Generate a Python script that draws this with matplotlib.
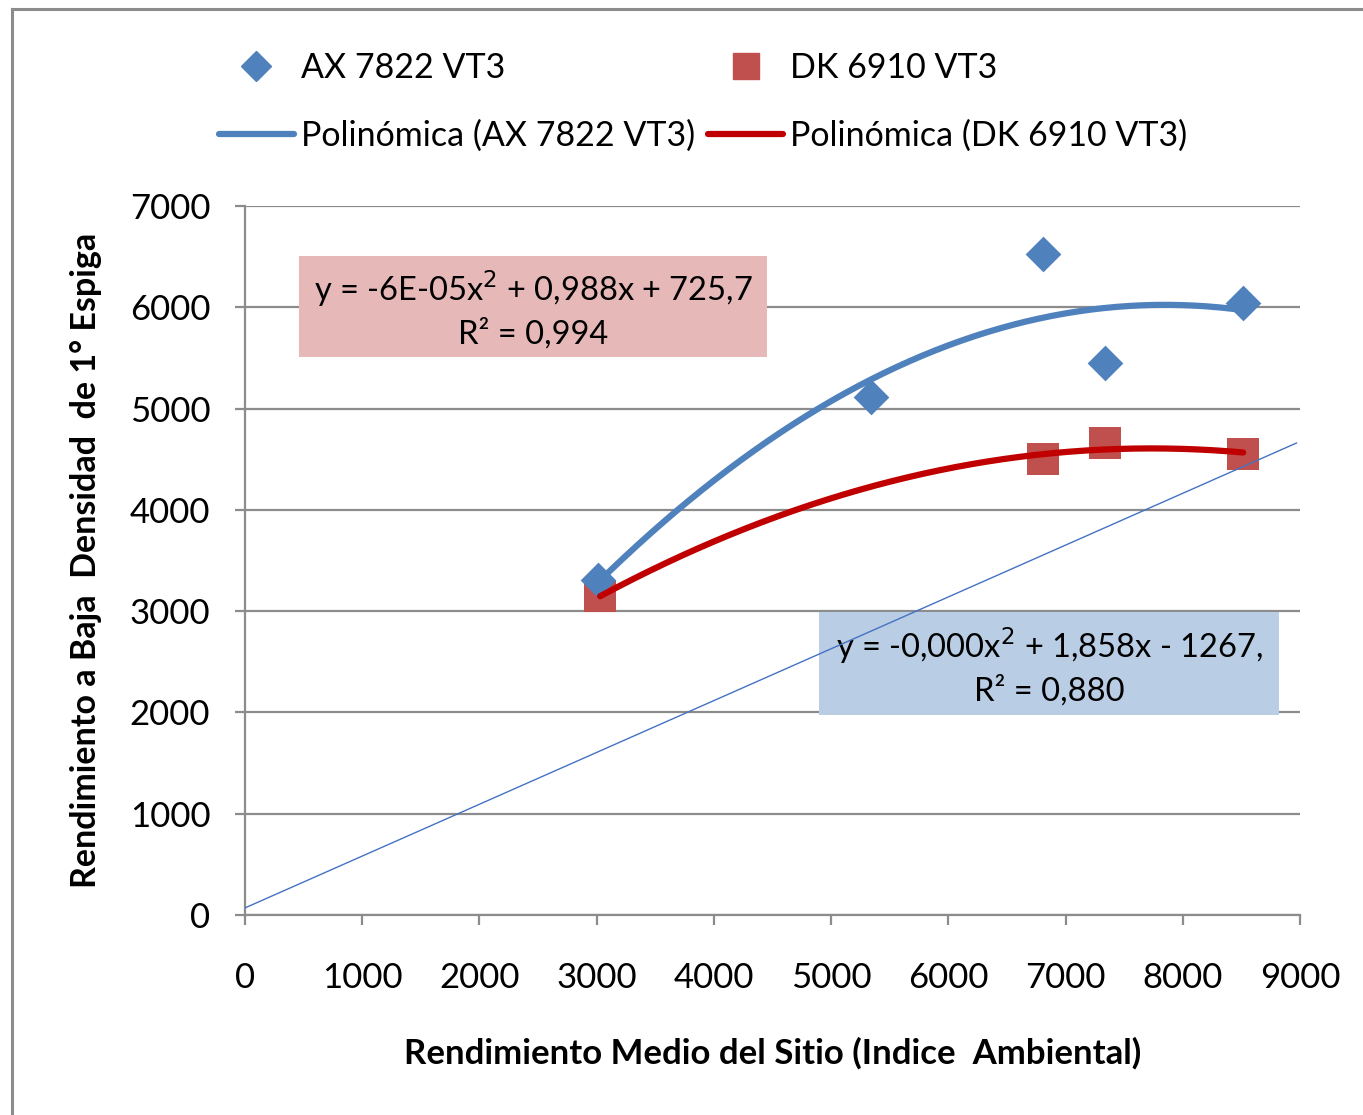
import numpy as np
import matplotlib
matplotlib.use("Agg")
import matplotlib.pyplot as plt
from matplotlib.lines import Line2D
from matplotlib.patches import Rectangle

plt.rcParams['font.family'] = ['Lato', 'DejaVu Sans']

# data
ax_x = [3012, 5341, 6809, 7338, 8515]
ax_y = [3307, 5113, 6525, 5449, 6041]
dk_x = [3029, 6809, 7338, 8515]
dk_y = [3149, 4501, 4659, 4551]
ref_x = [0, 8970]
ref_y = [70, 4660]

x_ticks = [0, 1000, 2000, 3000, 4000, 5000, 6000, 7000, 8000, 9000]
y_ticks = [0, 1000, 2000, 3000, 4000, 5000, 6000, 7000]

eq_pink = "y = -6E-05x$^2$ + 0,988x + 725,7\nR² = 0,994"
eq_blue = "y = -0,000x$^2$ + 1,858x - 1267,\nR² = 0,880"

blue = "#4F81BD"
red_mk = "#C0504D"
red_ln = "#C00000"
grid_c = "#8C8C8C"

W, H = 1363, 1115
fig = plt.figure(figsize=(W / 100, H / 100), dpi=100)
ax = fig.add_axes([245 / W, 1 - 915 / H, (1300 - 245) / W, (915 - 206) / H])

# polynomial trend lines (order 2)
cb = np.polyfit(ax_x, ax_y, 2)
xb = np.linspace(min(ax_x), max(ax_x), 200)
cr = np.polyfit(dk_x, dk_y, 2)
xr = np.linspace(min(dk_x), max(dk_x), 200)

ax.plot(ref_x, ref_y, color="#4472C4", lw=1.0, zorder=6)
ax.scatter(ax_x, ax_y, marker="D", s=330, color=blue, zorder=4, linewidths=0)
ax.scatter(dk_x, dk_y, marker="s", s=560, color=red_mk, zorder=3, linewidths=0)
ax.plot(xb, np.polyval(cb, xb), color=blue, lw=4.5, solid_capstyle="round", zorder=5)
ax.plot(xr, np.polyval(cr, xr), color=red_ln, lw=4.5, solid_capstyle="round", zorder=5)

ax.set_xlim(0, 9000)
ax.set_ylim(0, 7000)
ax.set_xticks(x_ticks)
ax.set_yticks(y_ticks)
ax.yaxis.grid(True, color=grid_c, lw=1.6)
ax.set_axisbelow(True)
for s in ["top", "right"]:
    ax.spines[s].set_visible(False)
for s in ["left", "bottom"]:
    ax.spines[s].set_color(grid_c)
    ax.spines[s].set_linewidth(1.6)
ax.tick_params(axis="both", colors=grid_c, width=1.6, length=7, labelcolor="black", labelsize=25)
ax.tick_params(axis="y", pad=18)
ax.tick_params(axis="x", pad=27)

ax.set_xlabel("Rendimiento Medio del Sitio (Indice  Ambiental)", fontsize=25,
              fontweight="bold", labelpad=31)
ax.set_ylabel("Rendimiento a Baja  Densidad  de 1° Espiga", fontsize=24.5,
              fontweight="bold", labelpad=20)

# equation boxes
fig.patches.append(Rectangle((299 / W, 1 - 357 / H), (767 - 299) / W, (357 - 256) / H,
                             transform=fig.transFigure, facecolor="#E6B9B8", edgecolor="none", zorder=2))
fig.text((299 + 767) / 2 / W, 1 - 309 / H, eq_pink, ha="center", va="center",
         fontsize=23.5, linespacing=1.35, zorder=3)
box = Rectangle((819 / W, 1 - 715 / H), (1279 - 819) / W, (715 - 612) / H,
                transform=fig.transFigure, facecolor="#B9CDE5", edgecolor="none", zorder=1)
ax.add_artist(box)
ax.text((819 + 1279) / 2 / W, 1 - 666 / H, eq_blue, transform=fig.transFigure,
        ha="center", va="center", fontsize=23.5, linespacing=1.35, zorder=2)

# legend
handles = [
    Line2D([], [], marker="D", ls="none", color=blue, markersize=15),
    Line2D([], [], color=blue, lw=4.5, solid_capstyle="round"),
    Line2D([], [], marker="s", ls="none", color=red_mk, markersize=19),
    Line2D([], [], color=red_ln, lw=4.5, solid_capstyle="round"),
]
labels = ["AX 7822 VT3", "Polinómica (AX 7822 VT3)", "DK 6910 VT3", "Polinómica (DK 6910 VT3)"]
fig.legend(handles, labels, ncol=2, loc="upper left", bbox_to_anchor=(219 / W, 1 - 52 / H),
           frameon=False, fontsize=24.5, handlelength=2.2, handletextpad=0.2,
           columnspacing=0.4, labelspacing=1.05, borderpad=0, borderaxespad=0)

# outer frame
fig.add_artist(Line2D([12 / W, 12 / W], [0, 1 - 9 / H], color="#8C8C8C", lw=2.2,
                      transform=fig.transFigure))
fig.add_artist(Line2D([12 / W, 1], [1 - 9 / H, 1 - 9 / H], color="#8C8C8C", lw=2.2,
                      transform=fig.transFigure))

fig.savefig("out.png", dpi=100)
